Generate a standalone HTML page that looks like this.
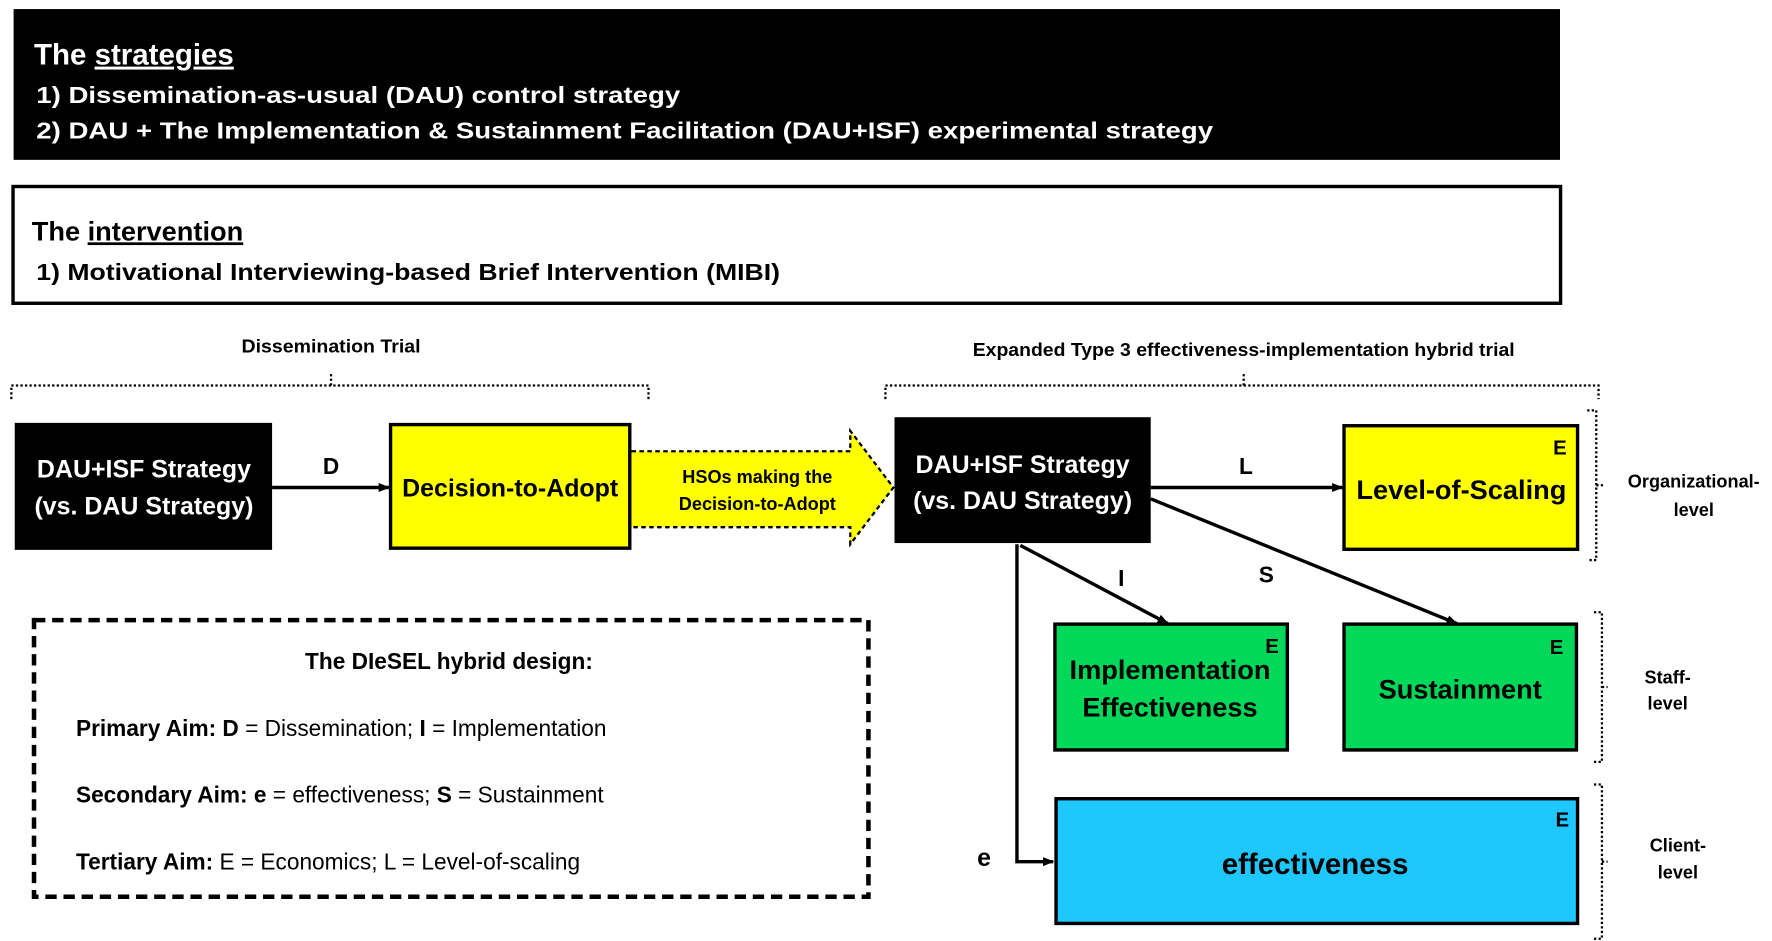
<!DOCTYPE html>
<html><head><meta charset="utf-8"><style>html,body{margin:0;padding:0;background:#fff}svg{display:block}</style></head>
<body>
<svg width="1772" height="941" viewBox="0 0 1563 830" preserveAspectRatio="none" xmlns="http://www.w3.org/2000/svg" font-family="Liberation Sans, Arial, sans-serif" font-weight="bold">
<defs>
<marker id="ah" markerWidth="10" markerHeight="10" refX="9" refY="5" orient="auto" markerUnits="userSpaceOnUse"><path d="M0,1 L10,5 L0,9 Z" fill="#000"/></marker>
</defs>
<rect x="12" y="8" width="1364" height="133" fill="#000"/>
<text x="30" y="57" font-size="26" fill="#fff">The <tspan text-decoration="underline">strategies</tspan></text>
<text x="32" y="91" font-size="20" fill="#fff" textLength="568" lengthAdjust="spacingAndGlyphs">1) Dissemination-as-usual (DAU) control strategy</text>
<text x="32" y="122" font-size="20" fill="#fff" textLength="1038" lengthAdjust="spacingAndGlyphs">2) DAU + The Implementation &amp; Sustainment Facilitation (DAU+ISF) experimental strategy</text>
<rect x="11.5" y="164.5" width="1365" height="103" fill="#fff" stroke="#000" stroke-width="3"/>
<text x="28" y="212" font-size="24" fill="#000">The <tspan text-decoration="underline">intervention</tspan></text>
<text x="32" y="247" font-size="20" fill="#000" textLength="656" lengthAdjust="spacingAndGlyphs">1) Motivational Interviewing-based Brief Intervention (MIBI)</text>
<text x="292" y="311" font-size="16" text-anchor="middle" textLength="158" lengthAdjust="spacingAndGlyphs">Dissemination Trial</text>
<path d="M10,352 V340 H572 V352 M292,340 V330" fill="none" stroke="#000" stroke-width="2" stroke-dasharray="2,2"/>
<text x="1097" y="314" font-size="16" text-anchor="middle" textLength="478" lengthAdjust="spacingAndGlyphs">Expanded Type 3 effectiveness-implementation hybrid trial</text>
<path d="M781,352 V340 H1410 V352 M1097,340 V330" fill="none" stroke="#000" stroke-width="2" stroke-dasharray="2,2"/>
<rect x="13" y="373" width="227" height="112" fill="#000"/>
<text x="127" y="421" font-size="22" fill="#fff" text-anchor="middle">DAU+ISF Strategy</text>
<text x="127" y="454" font-size="22" fill="#fff" text-anchor="middle">(vs. DAU Strategy)</text>
<line x1="240" y1="430" x2="343" y2="430" stroke="#000" stroke-width="3" marker-end="url(#ah)"/>
<text x="292" y="418" font-size="20" text-anchor="middle">D</text>
<rect x="344.5" y="374.5" width="211" height="109" fill="#ff0" stroke="#000" stroke-width="3"/>
<text x="450" y="438" font-size="22" text-anchor="middle">Decision-to-Adopt</text>
<path d="M557,398 H750 V380 L788,430 L750,480 V465 H557 Z" fill="#ff0"/>
<path d="M557,398 H750 V380 L788,430 L750,480 V465 H557" fill="none" stroke="#000" stroke-width="2" stroke-dasharray="4,3"/>
<text x="668" y="426" font-size="16" text-anchor="middle">HSOs making the</text>
<text x="668" y="450" font-size="16" text-anchor="middle">Decision-to-Adopt</text>
<rect x="789" y="368" width="226" height="111" fill="#000"/>
<text x="902" y="417" font-size="22" fill="#fff" text-anchor="middle">DAU+ISF Strategy</text>
<text x="902" y="449" font-size="22" fill="#fff" text-anchor="middle">(vs. DAU Strategy)</text>
<line x1="1015" y1="430" x2="1184" y2="430" stroke="#000" stroke-width="3" marker-end="url(#ah)"/>
<text x="1099" y="418" font-size="20" text-anchor="middle">L</text>
<rect x="1185.5" y="375.5" width="206" height="109" fill="#ff0" stroke="#000" stroke-width="3"/>
<text x="1376" y="401" font-size="18" text-anchor="middle">E</text>
<text x="1289" y="440" font-size="24" text-anchor="middle">Level-of-Scaling</text>
<path d="M1400,362 H1408 V494 H1400 M1408,428 H1414" fill="none" stroke="#000" stroke-width="2" stroke-dasharray="2,2"/>
<text x="1494" y="430" font-size="16" text-anchor="middle">Organizational-</text>
<text x="1494" y="455" font-size="16" text-anchor="middle">level</text>
<line x1="900" y1="481" x2="1030" y2="550" stroke="#000" stroke-width="3" marker-end="url(#ah)"/>
<text x="989" y="517" font-size="20" text-anchor="middle">I</text>
<line x1="1015" y1="440" x2="1285" y2="550" stroke="#000" stroke-width="3" marker-end="url(#ah)"/>
<text x="1117" y="514" font-size="20" text-anchor="middle">S</text>
<rect x="930.5" y="550.5" width="205" height="111" fill="#00d85a" stroke="#000" stroke-width="3"/>
<text x="1122" y="576" font-size="18" text-anchor="middle">E</text>
<text x="1032" y="599" font-size="24" text-anchor="middle">Implementation</text>
<text x="1032" y="632" font-size="24" text-anchor="middle">Effectiveness</text>
<rect x="1185.5" y="550.5" width="205" height="111" fill="#00d85a" stroke="#000" stroke-width="3"/>
<text x="1373" y="577" font-size="18" text-anchor="middle">E</text>
<text x="1288" y="616" font-size="24" text-anchor="middle">Sustainment</text>
<path d="M1406,540 H1413 V672 H1406 M1413,606 H1418" fill="none" stroke="#000" stroke-width="2" stroke-dasharray="2,2"/>
<text x="1471" y="603" font-size="16" text-anchor="middle">Staff-</text>
<text x="1471" y="626" font-size="16" text-anchor="middle">level</text>
<path d="M897,480 V760 H929" fill="none" stroke="#000" stroke-width="3" marker-end="url(#ah)"/>
<text x="868" y="764" font-size="22" text-anchor="middle">e</text>
<rect x="931.5" y="704.5" width="460" height="110" fill="#1ec8ff" stroke="#000" stroke-width="3"/>
<text x="1378" y="729" font-size="18" text-anchor="middle">E</text>
<text x="1160" y="771" font-size="26" text-anchor="middle">effectiveness</text>
<path d="M1406,692 H1413 V828 H1406 M1413,760 H1418" fill="none" stroke="#000" stroke-width="2" stroke-dasharray="2,2"/>
<text x="1480" y="751" font-size="16" text-anchor="middle">Client-</text>
<text x="1480" y="775" font-size="16" text-anchor="middle">level</text>
<rect x="30" y="547" width="736" height="244" fill="none" stroke="#000" stroke-width="4" stroke-dasharray="10,6"/>
<text x="396" y="590" font-size="20" text-anchor="middle">The DIeSEL hybrid design:</text>
<text x="67" y="649" font-size="20">Primary Aim: D <tspan font-weight="normal">= Dissemination; </tspan>I<tspan font-weight="normal"> = Implementation</tspan></text>
<text x="67" y="708" font-size="20">Secondary Aim: e <tspan font-weight="normal">= effectiveness; </tspan>S<tspan font-weight="normal"> = Sustainment</tspan></text>
<text x="67" y="767" font-size="20">Tertiary Aim: <tspan font-weight="normal">E = Economics; L = Level-of-scaling</tspan></text>
</svg>
</body></html>
